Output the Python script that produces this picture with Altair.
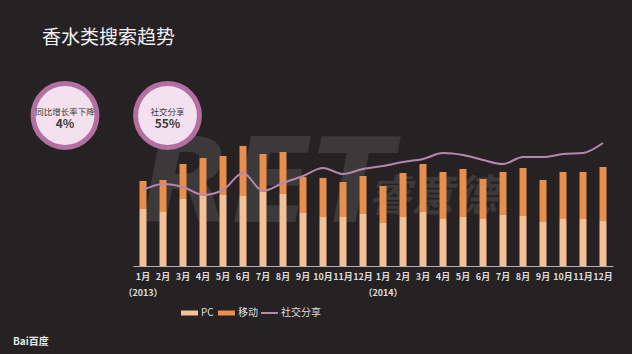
import altair as alt
import pandas as pd

FONT = "Noto Sans CJK SC"

years = ["2013"] * 12 + ["2014"] * 12
months = list(range(1, 13)) * 2
pc = [57, 54, 67, 71, 71, 70, 74, 72, 53, 49, 49, 52,
      43, 49, 54, 47, 49, 47, 51, 50, 44, 47, 47, 45]
mobile = [28, 32, 35, 37, 39, 50, 38, 42, 36, 39, 35, 38,
          37, 44, 48, 47, 48, 40, 43, 48, 42, 47, 47, 54]
social = [76, 82, 79, 71, 76, 93, 75, 83, 90, 98, 92, 97,
          100, 104, 107, 113, 111, 106, 102, 109, 109, 112, 113, 123]

year_keys = ["2013-1", "2014-1"]
year_labels = ["（2013）", "（2014）"]

circle_titles = ["同比增长率下降", "社交分享"]
circle_values = ["4%", "55%"]

keys = [f"{y}-{m}" for y, m in zip(years, months)]
df = pd.DataFrame({"key": keys, "pc": pc, "mobile": mobile, "social": social})
df["total"] = df["pc"] + df["mobile"]

xenc = alt.X("key:N", sort=keys, scale=alt.Scale(paddingInner=0, paddingOuter=0),
             axis=alt.Axis(title=None, labelAngle=0, ticks=False, grid=False,
                           domainColor="#b5b0b2", domainWidth=1,
                           labelColor="#dddddd", labelFontSize=9, labelFontWeight="bold",
                           labelFont=FONT, labelPadding=6,
                           labelExpr="split(datum.label, '-')[1] + '月'"))
yscale = alt.Scale(domain=[0, 130], nice=False, zero=True)

base = alt.Chart(df)

# watermark
wm = alt.Chart(pd.DataFrame({"t": ["RET"]})).mark_text(
    font="DejaVu Sans", fontSize=118, fontWeight="bold", fontStyle="italic",
    color="#3c393a", align="left", baseline="alphabetic"
).encode(text="t:N", x=alt.value(8), y=alt.value(86))
wm2 = alt.Chart(pd.DataFrame({"t": ["睿意德"]})).mark_text(
    font=FONT, fontSize=43, fontWeight="bold", fontStyle="italic",
    color="#3c393a", align="left", baseline="middle"
).encode(text="t:N", x=alt.value(235), y=alt.value(62))

bar_pc = base.mark_bar(size=7, color="#f4c196").encode(
    x=xenc, y=alt.Y("pc:Q", scale=yscale, axis=None), y2=alt.value(130))
bar_mob = base.mark_bar(size=7, color="#e98f4b").encode(
    x=xenc, y=alt.Y("total:Q", scale=yscale, axis=None), y2="pc:Q")
line = base.mark_line(color="#b985ae", strokeWidth=2, interpolate="monotone").encode(
    x=xenc, y=alt.Y("social:Q", scale=yscale, axis=None))

yr = alt.Chart(pd.DataFrame({"key": year_keys, "t": year_labels})).mark_text(
    font=FONT, fontSize=9, fontWeight="bold", color="#dddddd", baseline="middle"
).encode(x=alt.X("key:N", sort=keys), y=alt.value(157), text="t:N")

# circles
circ_df = pd.DataFrame({"t": circle_titles, "v": circle_values, "px": [-68, 34.5]})
circ = alt.Chart(circ_df).mark_point(
    shape="circle", filled=True, size=4072, fill="#f4e1f0", stroke="#b46fa1",
    strokeWidth=5, opacity=1
).encode(x=alt.X("px:Q", scale=None), y=alt.value(-20.5))
circ_t = alt.Chart(circ_df).mark_text(
    font=FONT, fontSize=8.5, color="#3a3a3a", baseline="middle"
).encode(x=alt.X("px:Q", scale=None), y=alt.value(-24), text="t:N")
circ_v = alt.Chart(circ_df).mark_text(
    font=FONT, fontSize=12, fontWeight="bold", color="#3a3a3a", baseline="middle"
).encode(x=alt.X("px:Q", scale=None), y=alt.value(-12), text="v:N")

title = alt.Chart(pd.DataFrame({"t": ["香水类搜索趋势"]})).mark_text(
    font=FONT, fontSize=19, color="#f0f0f0", align="left", baseline="middle"
).encode(x=alt.value(-91), y=alt.value(-98), text="t:N")

# legend
leg_rect = alt.Chart(pd.DataFrame({"c": ["#f4c196", "#e98f4b"], "x1": [48, 85], "x2": [65, 102]})).mark_rect().encode(
    x=alt.X("x1:Q", scale=None), x2="x2:Q", y=alt.value(174.5), y2=alt.value(179.5),
    color=alt.Color("c:N", scale=None))
leg_line = alt.Chart(pd.DataFrame({"a": [0]})).mark_rule(color="#b985ae", strokeWidth=2).encode(
    x=alt.value(128), x2=alt.value(145), y=alt.value(177))
leg_text = alt.Chart(pd.DataFrame({"t": ["PC", "移动", "社交分享"], "x": [68, 105, 148]})).mark_text(
    font=FONT, fontSize=10, color="#dddddd", align="left", baseline="middle"
).encode(x=alt.X("x:Q", scale=None), y=alt.value(177), text="t:N")

baidu = alt.Chart(pd.DataFrame({"t": ["Bai百度"]})).mark_text(
    font=FONT, fontSize=10, fontWeight="bold", color="#e8e8e8", align="left", baseline="middle"
).encode(x=alt.value(-120), y=alt.value(206), text="t:N")

chart = alt.layer(
    wm, wm2, bar_pc, bar_mob, line, yr, circ, circ_t, circ_v, title,
    leg_rect, leg_line, leg_text, baidu
).resolve_scale(x="shared").properties(
    width=480, height=130,
    autosize=alt.AutoSizeParams(type="none"),
    padding={"left": 133, "top": 136, "right": 19, "bottom": 88},
    background="#262223",
).configure_view(stroke=None)

chart.save("out.html", embed_options={"renderer": "svg", "actions": False})
